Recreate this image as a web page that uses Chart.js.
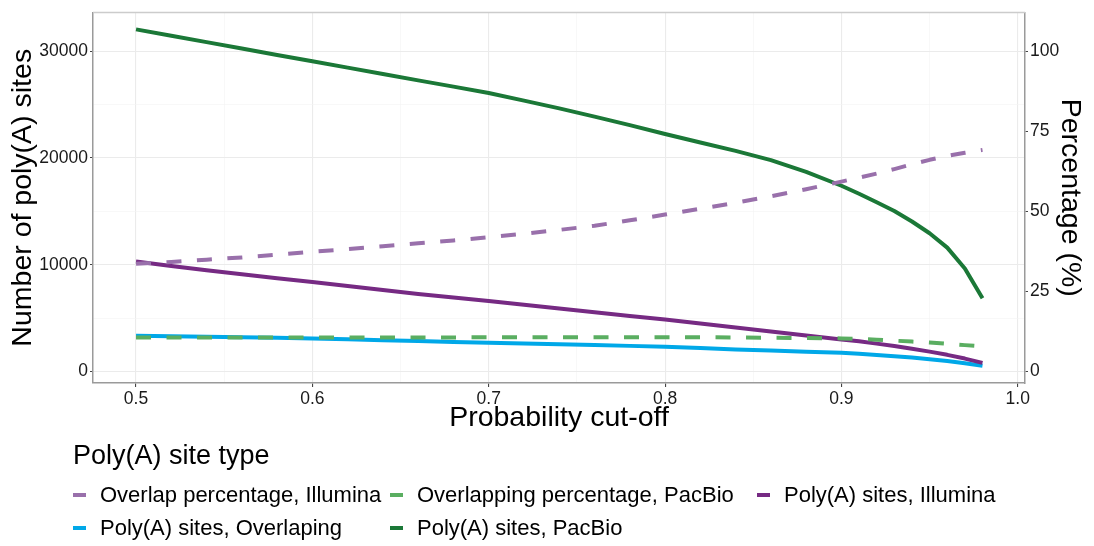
<!DOCTYPE html>
<html>
<head>
<meta charset="utf-8">
<title>Poly(A) sites vs probability cut-off</title>
<script src="https://cdn.jsdelivr.net/npm/chart.js@4.4.1/dist/chart.umd.min.js"></script>
<style>
  html, body { margin: 0; padding: 0; background: #fff; }
  canvas { display: block; }
</style>
</head>
<body>
<canvas id="polyaChart" width="1094" height="546"></canvas>
<script>
// probability cut-off values
const cutoffs = [0.50, 0.52, 0.54, 0.56, 0.58, 0.60, 0.62, 0.64, 0.66, 0.68, 0.70,
  0.72, 0.74, 0.76, 0.78, 0.80, 0.82, 0.84, 0.86, 0.88, 0.90,
  0.91, 0.92, 0.93, 0.94, 0.95, 0.96, 0.97, 0.98];

// percentages (right axis)
const overlapIllumina = [33.6, 34.2, 34.9, 35.6, 36.5, 37.4, 38.2, 39.1, 40.0, 40.9, 41.9,
  43.0, 44.2, 45.5, 47.2, 49.0, 50.8, 52.7, 54.7, 56.9, 59.3,
  60.5, 61.8, 63.2, 64.7, 66.1, 67.3, 68.3, 69.2];
const overlapPacBio = [10.6, 10.6, 10.6, 10.6, 10.6, 10.6, 10.6, 10.6, 10.6, 10.6, 10.65,
  10.7, 10.7, 10.7, 10.7, 10.7, 10.65, 10.6, 10.5, 10.4, 10.3,
  10.1, 9.9, 9.6, 9.3, 9.0, 8.6, 8.2, 7.8];

// number of sites (left axis)
const sitesIllumina = [10300, 9880, 9480, 9100, 8730, 8370, 8000, 7620, 7260, 6920, 6590,
  6240, 5900, 5550, 5200, 4860, 4480, 4110, 3740, 3370, 2990,
  2820, 2600, 2380, 2120, 1850, 1550, 1200, 800];
const sitesOverlaping = [3330, 3290, 3240, 3190, 3140, 3080, 3000, 2920, 2840, 2760, 2680,
  2620, 2550, 2470, 2390, 2300, 2180, 2060, 1950, 1850, 1740,
  1650, 1540, 1420, 1290, 1140, 970, 770, 520];
const sitesPacBio = [32060, 31460, 30860, 30260, 29660, 29070, 28470, 27870, 27280, 26690, 26100,
  25380, 24650, 23880, 23080, 22250, 21450, 20670, 19800, 18700, 17400,
  16650, 15850, 15030, 14050, 12950, 11600, 9650, 6850];

const seriesLabels = [
  'Overlap percentage, Illumina',
  'Overlapping percentage, PacBio',
  'Poly(A) sites, Illumina',
  'Poly(A) sites, Overlaping',
  'Poly(A) sites, PacBio'
];
const legendTitle = 'Poly(A) site type';

// major ticks get labels, minor ones only a grid line
const xTicksMajor = [0.5, 0.6, 0.7, 0.8, 0.9, 1.0];
const xTicksMinor = [0.55, 0.65, 0.75, 0.85, 0.95];
const yTicksMajor = [0, 10000, 20000, 30000];
const yTicksMinor = [5000, 15000, 25000];
const y1Ticks = [0, 25, 50, 75, 100];

Chart.defaults.font.family = '"Liberation Sans", Arial, sans-serif';

function pts(ys) {
  return cutoffs.map((x, i) => ({ x: x, y: ys[i] }));
}

function isMajor(list, v) {
  return list.some(t => Math.abs(t - v) < 1e-6);
}

function setTicks(list) {
  return s => { s.ticks = list.slice().sort((a, b) => a - b).map(v => ({ value: v })); };
}

const gridMajor = '#EBEBEB';
const gridMinor = '#F4F4F4';
const frameColor = '#9a9a9a';

// top edge of the panel + the bottom legend, ggplot style
const panelAndLegend = {
  id: 'panelAndLegend',
  afterDraw(chart) {
    const ctx = chart.ctx;
    const a = chart.chartArea;
    ctx.save();
    ctx.strokeStyle = '#cccccc';
    ctx.lineWidth = 1.5;
    ctx.beginPath();
    ctx.moveTo(a.left, a.top);
    ctx.lineTo(a.right, a.top);
    ctx.stroke();

    ctx.fillStyle = '#000';
    ctx.textBaseline = 'middle';
    ctx.textAlign = 'left';
    ctx.font = '27px "Liberation Sans", Arial, sans-serif';
    ctx.fillText(legendTitle, 73, 457);

    const cols = [73, 390, 757];
    const rows = [495, 528];
    ctx.font = '22px "Liberation Sans", Arial, sans-serif';
    chart.data.datasets.forEach((ds, i) => {
      const kx = cols[i % 3];
      const ky = rows[Math.floor(i / 3)];
      ctx.strokeStyle = ds.borderColor;
      ctx.lineWidth = 4;
      ctx.setLineDash([]);
      ctx.beginPath();
      ctx.moveTo(kx, ky);
      ctx.lineTo(kx + 13, ky);
      ctx.stroke();
      ctx.fillStyle = '#000';
      ctx.fillText(ds.label, kx + 27, ky + 1);
    });
    ctx.restore();
  }
};

const lineBase = {
  fill: false,
  pointRadius: 0,
  pointHoverRadius: 0,
  borderWidth: 4,
  tension: 0,
  borderJoinStyle: 'round',
  borderCapStyle: 'butt'
};

new Chart(document.getElementById('polyaChart'), {
  type: 'line',
  data: {
    datasets: [
      Object.assign({}, lineBase, {
        label: seriesLabels[0],
        data: pts(overlapIllumina),
        borderColor: '#9970AB',
        borderDash: [15, 15.5],
        yAxisID: 'y1'
      }),
      Object.assign({}, lineBase, {
        label: seriesLabels[1],
        data: pts(overlapPacBio),
        borderColor: '#5AAE61',
        borderDash: [15, 15.5],
        yAxisID: 'y1'
      }),
      Object.assign({}, lineBase, {
        label: seriesLabels[2],
        data: pts(sitesIllumina),
        borderColor: '#762A83',
        yAxisID: 'y'
      }),
      Object.assign({}, lineBase, {
        label: seriesLabels[3],
        data: pts(sitesOverlaping),
        borderColor: '#00A8E8',
        yAxisID: 'y'
      }),
      Object.assign({}, lineBase, {
        label: seriesLabels[4],
        data: pts(sitesPacBio),
        borderColor: '#1B7837',
        yAxisID: 'y'
      })
    ]
  },
  options: {
    responsive: false,
    devicePixelRatio: 1,
    animation: false,
    layout: { padding: { left: 0, right: 0, top: 11, bottom: 103 } },
    plugins: {
      legend: { display: false },
      tooltip: { enabled: false }
    },
    scales: {
      x: {
        type: 'linear',
        min: 0.4756,
        max: 1.0041,
        afterFit(s) { s.height = 60; },
        afterBuildTicks: setTicks(xTicksMajor.concat(xTicksMinor)),
        ticks: {
          autoSkip: false,
          maxRotation: 0,
          padding: 2,
          color: '#1a1a1a',
          font: { size: 17.5 },
          callback: v => isMajor(xTicksMajor, v) ? v.toFixed(1) : ''
        },
        grid: {
          color: c => isMajor(xTicksMajor, c.tick.value) ? gridMajor : gridMinor,
          lineWidth: c => isMajor(xTicksMajor, c.tick.value) ? 1.1 : 0.6,
          tickLength: 4,
          tickColor: c => isMajor(xTicksMajor, c.tick.value) ? '#444' : 'rgba(0,0,0,0)'
        },
        border: { color: frameColor, width: 1.5 },
        title: {
          display: true,
          text: 'Probability cut-off',
          color: '#000',
          font: { size: 28.5 },
          padding: { top: 0, bottom: 8 }
        }
      },
      y: {
        type: 'linear',
        position: 'left',
        min: -1090,
        max: 33640,
        afterFit(s) { s.width = 93; },
        afterBuildTicks: setTicks(yTicksMajor.concat(yTicksMinor)),
        ticks: {
          autoSkip: false,
          padding: 2,
          color: '#1a1a1a',
          font: { size: 17.5 },
          callback: v => isMajor(yTicksMajor, v) ? String(v) : ''
        },
        grid: {
          color: c => isMajor(yTicksMajor, c.tick.value) ? gridMajor : gridMinor,
          lineWidth: c => isMajor(yTicksMajor, c.tick.value) ? 1.1 : 0.6,
          tickLength: 3,
          tickColor: c => isMajor(yTicksMajor, c.tick.value) ? '#444' : 'rgba(0,0,0,0)'
        },
        border: { color: frameColor, width: 1.5 },
        title: {
          display: true,
          text: 'Number of poly(A) sites',
          color: '#000',
          font: { size: 28.5 },
          padding: { top: 6.5, bottom: 0 }
        }
      },
      y1: {
        type: 'linear',
        position: 'right',
        min: -3.633,
        max: 112.13,
        afterFit(s) { s.width = 69; },
        afterBuildTicks: setTicks(y1Ticks),
        ticks: {
          autoSkip: false,
          padding: 2,
          color: '#1a1a1a',
          font: { size: 17.5 },
          callback: v => String(v)
        },
        grid: {
          drawOnChartArea: false,
          tickLength: 3,
          tickColor: '#444'
        },
        border: { color: frameColor, width: 1.5 },
        title: {
          display: true,
          text: 'Percentage (%)',
          color: '#000',
          font: { size: 28.5 },
          padding: { top: 7.5, bottom: 0 }
        }
      }
    }
  },
  plugins: [panelAndLegend]
});
</script>
</body>
</html>
